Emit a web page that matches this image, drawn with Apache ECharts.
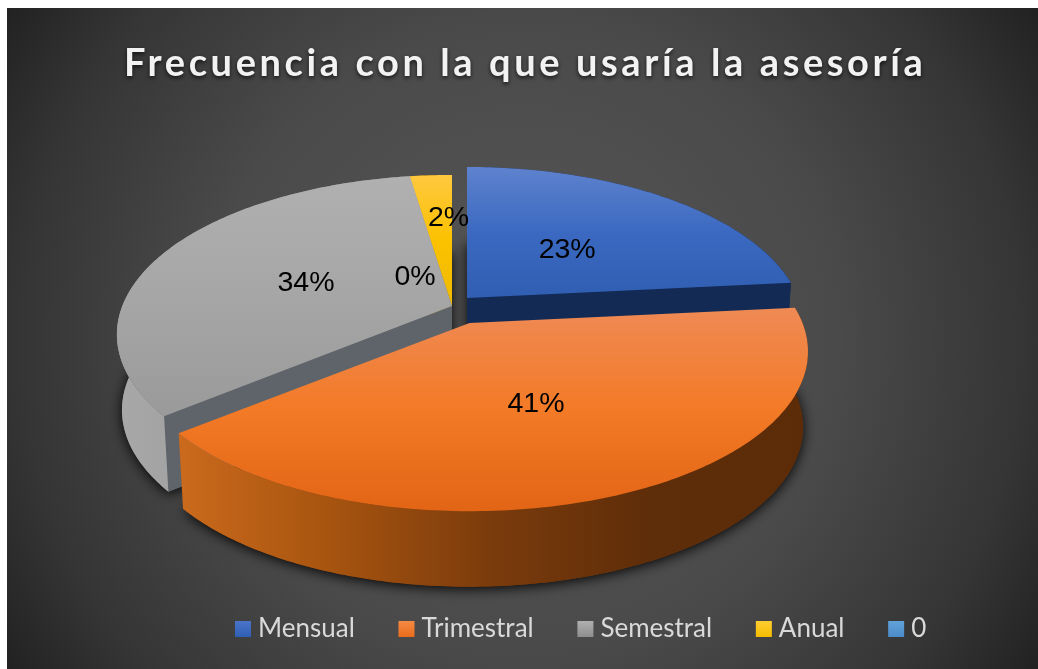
<!DOCTYPE html>
<html><head><meta charset="utf-8">
<style>html,body{margin:0;padding:0;background:#fff}#c{width:1038px;height:669px}</style>
<script src="https://cdn.jsdelivr.net/npm/echarts@6/dist/echarts.min.js"></script>
</head><body><div id="c"></div>
<script>
const categories = ['Mensual','Trimestral','Semestral','Anual','0'];
const values = [23.4, 40.7, 33.5, 2.4, 0];
const titleText = 'Frecuencia con la que usaría la asesoría';

// layout of the tilted, exploded disc
const apex = [[467,298],[469.5,323],[452,306],[452,306],[452,306]];
const radiusScale = [0.995,1,0.99,1,1];
const labelNudge = [[-4,6],[-3,3],[3,4],[8,-17],[-37,42]];
const paintBase = [10,40,20,15,35];
const R = 333, RY = 154.5, P = 0.179, DEPTH = 75.5, BOTTOM_SCALE = 0.985;
const TITLE_SPACING = '3.6px';

// letter spacing for the title font only
const fontDesc = Object.getOwnPropertyDescriptor(CanvasRenderingContext2D.prototype,'font');
Object.defineProperty(CanvasRenderingContext2D.prototype,'font',{
  get(){return fontDesc.get.call(this);},
  set(v){fontDesc.set.call(this,v); this.letterSpacing = /bold 38px/.test(String(v)) ? TITLE_SPACING : '0px';}
});

const G = echarts.graphic;
const vGrad = (stops)=>new G.LinearGradient(0,0,0,1,stops.map((c,i)=>({offset:i/(stops.length-1),color:c})));
const hGrad = (stops)=>new G.LinearGradient(0,0,1,0,stops.map((c,i)=>({offset:i/(stops.length-1),color:c})));

const topFill = [
  vGrad(['#5e82cd','#3b69c1','#2f5eb2']),
  vGrad(['#ef8a55','#f37a26','#e26515']),
  vGrad(['#b0b0b0','#a6a6a6','#9a9a9a']),
  vGrad(['#ffc83f','#fbc200','#eeb900']),
  vGrad(['#5b9bd5','#5b9bd5'])
];
const wallFill = [
  '#132a55',
  hGrad(['#cb6a1c','#a5530f','#7a3b0c','#5e2d09','#5c2c09']),
  hGrad(['#a8a8a8','#8c8c8c']),
  '#8a6a00',
  '#2c5a85'
];
const innerFill = ['#132a55','#7a3b0c','#5e6469','#8a6a00','#2c5a85'];
const legendFill = [
  vGrad(['#4a74c8','#2f5fb5']),
  vGrad(['#f58a45','#ea6c1a']),
  vGrad(['#b0b0b0','#8e8e8e']),
  vGrad(['#ffcd33','#f5bd00']),
  vGrad(['#62a2da','#4a8bc9'])
];

const total = values.reduce((a,b)=>a+b,0);
const pct = values.map(v=>v/total);
const starts = pct.map((_,i)=>pct.slice(0,i).reduce((a,b)=>a+b,0)*Math.PI*2);

function project(i,ang,r,low){
  const u=Math.sin(ang)*r, v=-Math.cos(ang)*r, w=1-P*v;
  const s=(low?BOTTOM_SCALE:1)*radiusScale[i];
  return [apex[i][0]+R*s*u/w, apex[i][1]+RY*v/w+(low?DEPTH:0)];
}
function arc(i,a,b,low){
  const pts=[],n=Math.max(2,Math.ceil(Math.abs(b-a)*60));
  for(let k=0;k<=n;k++) pts.push(project(i,a+(b-a)*k/n,1,low));
  return pts;
}
function renderSlice(i){
  return function(params,api){
    const value=api.value(0);
    const a=starts[i], b=a+value/total*Math.PI*2;
    const children=[];
    if(value>0){
      const base=paintBase[i];
      const lowApex=project(i,0,0,true), topApex=project(i,0,0,false);
      const lowArc=arc(i,a,b,true), topArc=arc(i,a,b,false);
      const lowPoly=[lowApex].concat(lowArc);
      children.push({type:'polygon',silent:true,z2:1,shape:{points:lowPoly},
        style:{fill:'#1c1c1c',shadowColor:'rgba(0,0,0,0.95)',shadowBlur:13,shadowOffsetY:2}});
      children.push({type:'polygon',silent:true,z2:2,shape:{points:lowPoly},style:{fill:innerFill[i]}});
      if(-Math.sin(a)>1e-6) children.push({type:'polygon',silent:true,z2:base+1,shape:{points:[topApex,project(i,a,1,false),project(i,a,1,true),lowApex]},style:{fill:innerFill[i]}});
      if(Math.sin(b)>1e-6) children.push({type:'polygon',silent:true,z2:base+1,shape:{points:[topApex,project(i,b,1,false),project(i,b,1,true),lowApex]},style:{fill:innerFill[i]}});
      children.push({type:'polygon',silent:true,z2:base+2,shape:{points:topArc.concat(lowArc.slice().reverse())},style:{fill:wallFill[i]}});
      children.push({type:'polygon',silent:true,z2:base+3,shape:{points:[topApex].concat(topArc)},style:{fill:topFill[i]}});
    }
    const mid=a+(b-a)/2, lp=project(i,mid,0.5,false);
    children.push({type:'text',silent:true,z2:100,style:{
      text:Math.round(value/total*100)+'%',x:lp[0]+labelNudge[i][0],y:lp[1]+labelNudge[i][1],
      fill:'#000',font:'28.5px "Liberation Sans"',align:'center',verticalAlign:'middle'}});
    return {type:'group',children};
  };
}

const chart = echarts.init(document.getElementById('c'),null,{renderer:'canvas'});
chart.setOption({
  animation:false,
  backgroundColor:'#ffffff',
  title:{text:titleText,left:119,top:38,
    textStyle:{fontFamily:'Lato',fontWeight:'bold',fontSize:38,color:'#f2f2f2',
      textShadowColor:'rgba(0,0,0,0.7)',textShadowBlur:4,textShadowOffsetY:2}},
  legend:{left:230,top:611,itemWidth:16,itemHeight:16,itemGap:43.7,icon:'rect',
    data:categories,
    textStyle:{fontFamily:'Lato',fontSize:26,color:'#d9d9d9',padding:[0,0,0,2]}},
  graphic:[{type:'rect',z:-10,silent:true,shape:{x:7,y:8,width:1031,height:661},
    style:{fill:new G.RadialGradient(0.5,0.5,0.95,[
      {offset:0,color:'#575757'},{offset:0.5,color:'#4a4a4a'},{offset:0.8,color:'#353535'},{offset:1,color:'#1f1f1f'}])}}],
  series:categories.map((name,i)=>({
    type:'custom',name,coordinateSystem:'none',silent:true,z:2,
    itemStyle:{color:legendFill[i]},
    data:[[values[i]]],
    renderItem:renderSlice(i)
  }))
});
</script></body></html>
